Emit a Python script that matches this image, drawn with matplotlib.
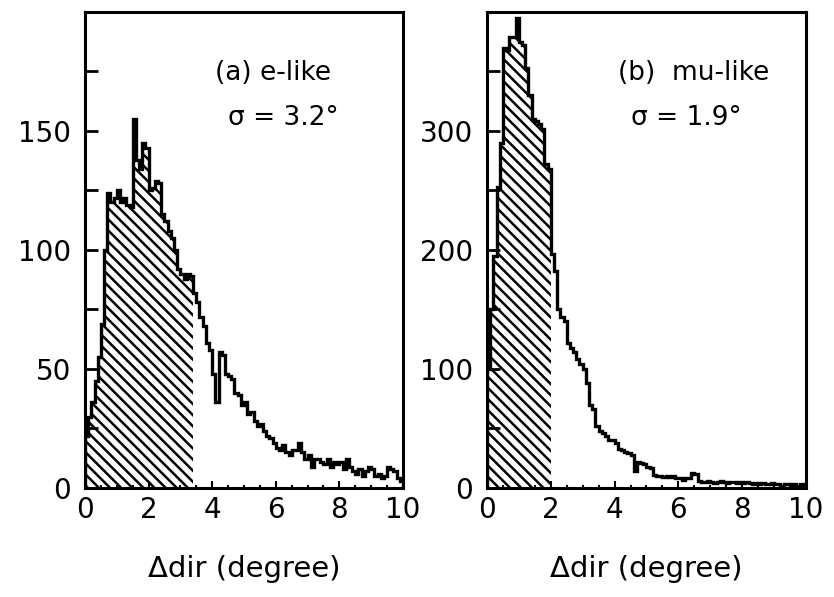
import numpy as np
import matplotlib
matplotlib.use('Agg')
import matplotlib.pyplot as plt
from matplotlib.ticker import MultipleLocator, FuncFormatter

plt.rcParams['hatch.linewidth'] = 1.8
plt.rcParams['font.family'] = ['DejaVu Sans']

# angular difference bins, 0.1 degree wide from 0 to 10
edges = np.round(np.arange(0, 10.01, 0.1), 2)

# (a) e-like events per bin
e_like = [22, 30, 36, 45, 55, 69, 100, 124, 120, 122,
          125, 120, 122, 119, 118, 155, 138, 134, 145, 143,
          125, 126, 129, 128, 115, 112, 108, 105, 100, 92,
          90, 88, 90, 89, 82, 78, 72, 68, 61, 58,
          48, 36, 57, 56, 48, 47, 46, 40, 39, 35,
          36, 31, 32, 28, 26, 27, 24, 22, 21, 19,
          17, 16, 18, 15, 14, 16, 16, 19, 15, 12,
          14, 9, 12, 12, 11, 10, 12, 9, 11, 10,
          11, 8, 12, 9, 7, 6, 8, 5, 7, 9,
          8, 5, 6, 4, 5, 9, 8, 7, 4, 3]

# (b) mu-like events per bin
mu_like = [100, 150, 195, 253, 290, 370, 368, 379, 379, 395,
           375, 372, 353, 330, 310, 308, 306, 302, 272, 268,
           197, 182, 150, 144, 140, 122, 118, 114, 108, 104,
           100, 88, 70, 66, 52, 48, 46, 44, 40, 40,
           38, 33, 32, 30, 29, 28, 14, 22, 21, 20,
           18, 17, 11, 10, 10, 9, 10, 9, 10, 8,
           8, 7, 8, 8, 13, 12, 6, 5, 5, 6,
           5, 4, 5, 6, 5, 4, 5, 5, 4, 5,
           4, 5, 4, 3, 4, 3, 4, 3, 3, 4,
           3, 3, 2, 3, 3, 2, 3, 2, 3, 2]

panels = [
    dict(values=e_like, hatch_to=3.4, ymax=200, ystep=25, ylabel_step=50,
         title='(a) e-like', sigma='3.2', rect=[0.1019, 0.1826, 0.3813, 0.7973]),
    dict(values=mu_like, hatch_to=2.0, ymax=400, ystep=50, ylabel_step=100,
         title='(b)  mu-like', sigma='1.9', rect=[0.5839, 0.1826, 0.3825, 0.7973]),
]

fig = plt.figure(figsize=(8.34, 5.97), dpi=100)

for p in panels:
    ax = fig.add_axes(p['rect'])
    vals = np.array(p['values'], dtype=float)
    centers = edges[:-1] + 0.05
    inside = edges[1:] <= p['hatch_to'] + 1e-9

    # hatched core of the distribution
    ax.bar(centers[inside], vals[inside], width=0.1, color='white',
           edgecolor='black', hatch='\\\\\\', linewidth=0)
    ax.stairs(vals, edges, color='black', linewidth=2.4)

    ax.set_xlim(0, 10)
    ax.set_ylim(0, p['ymax'])
    ax.xaxis.set_major_locator(MultipleLocator(2))
    ax.xaxis.set_minor_locator(MultipleLocator(0.5))
    ax.yaxis.set_major_locator(MultipleLocator(p['ystep']))
    step = p['ylabel_step']
    ax.yaxis.set_major_formatter(FuncFormatter(
        lambda v, pos, s=step: f'{int(v)}' if abs(v % s) < 1e-6 and v < 3.8 * s else ''))
    ax.tick_params(axis='y', direction='in', length=9, width=2, pad=10,
                   labelsize=20)
    ax.tick_params(axis='x', which='major', direction='in', length=5, width=1.5,
                   pad=6, labelsize=20)
    ax.tick_params(axis='x', which='minor', direction='in', length=2.5, width=1.5)
    for s in ax.spines.values():
        s.set_linewidth(2.2)

    ax.set_xlabel('Δdir (degree)', fontsize=21, labelpad=22)
    ax.text(0.41, 0.872, p['title'], transform=ax.transAxes,
            fontsize=19, va='center')
    ax.text(0.45, 0.777, 'σ = ' + p['sigma'] + '°',
            transform=ax.transAxes, fontsize=19, va='center')

fig.savefig('out.png', dpi=100)
